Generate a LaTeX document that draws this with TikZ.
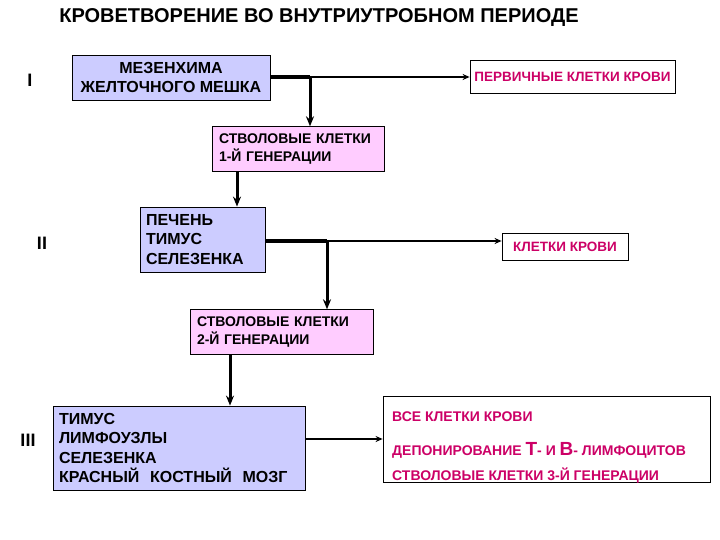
\documentclass[tikz,border=0pt]{standalone}
\usepackage{fontspec}
\setmainfont{Liberation Sans}
\usetikzlibrary{arrows.meta}
\definecolor{boxblue}{RGB}{204,204,255}
\definecolor{boxpink}{RGB}{255,204,255}
\definecolor{outred}{RGB}{204,0,102}
\begin{document}
\begin{tikzpicture}[x=1pt,y=-1pt,
  font=\bfseries\fontsize{16}{19.5}\selectfont,
  organ/.style={draw,line width=0.8pt,fill=boxblue,inner sep=6pt},
  stem/.style={draw,line width=0.8pt,fill=boxpink,inner sep=7pt,align=left,
    font=\bfseries\fontsize{14}{18}\selectfont},
  result/.style={draw,line width=0.8pt,fill=white,text=outred,
    font=\bfseries\fontsize{13.5}{16}\selectfont},
  stage/.style={font=\bfseries\fontsize{18}{20}\selectfont},
  trunk/.style={line width=4pt},
  feed/.style={line width=3pt,-{Stealth[length=10pt,width=8pt]}},
  yield/.style={line width=1.2pt,-{Stealth[length=7pt,width=6pt]}}]
  \useasboundingbox (0,0) rectangle (720,540);
  \node (title) at (319,18) {\fontsize{20}{22}\selectfont КРОВЕТВОРЕНИЕ ВО ВНУТРИУТРОБНОМ ПЕРИОДЕ};
  % stage I
  \node[stage] (n1) at (30,80) {I};
  \node[organ,minimum width=198pt,minimum height=45pt,align=center] (yolk) at (171,77.5)
    {МЕЗЕНХИМА\\ЖЕЛТОЧНОГО МЕШКА};
  \node[result,minimum width=205pt,minimum height=33pt] (prim) at (572.5,76.5)
    {ПЕРВИЧНЫЕ КЛЕТКИ КРОВИ};
  \node[stem,text width=158pt,minimum height=38pt] (gen1) at (298,149)
    {СТВОЛОВЫЕ КЛЕТКИ\\1-Й ГЕНЕРАЦИИ};
  \coordinate (j1) at (310,77);
  \draw[trunk] (yolk.east |- j1) -- (j1);
  \draw[yield] (j1) -- (prim.west |- j1);
  \draw[feed] (j1) -- (j1 |- gen1.north);
  % stage II
  \node[stage] (n2) at (42,243) {II};
  \node[organ,text width=113pt,minimum height=65pt,align=left] (liver) at (202.5,239.5)
    {ПЕЧЕНЬ\\ТИМУС\\СЕЛЕЗЕНКА};
  \node[result,minimum width=126pt,minimum height=27pt] (blood) at (565,246.5)
    {КЛЕТКИ КРОВИ};
  \coordinate (d1) at (237,0);
  \draw[feed] (gen1.south -| d1) -- (liver.north -| d1);
  \node[stem,text width=169pt,minimum height=40pt] (gen2) at (281.5,332)
    {СТВОЛОВЫЕ КЛЕТКИ\\2-Й ГЕНЕРАЦИИ};
  \coordinate (j2) at (327,241);
  \draw[trunk] (liver.east |- j2) -- (j2);
  \draw[yield] (j2) -- (blood.west |- j2);
  \draw[feed] (j2) -- (j2 |- gen2.north);
  % stage III
  \node[stage] (n3) at (28,440) {III};
  \node[organ,text width=240pt,minimum height=84pt,align=left] (lymph) at (179,448)
    {ТИМУС\\ЛИМФОУЗЛЫ\\СЕЛЕЗЕНКА\\КРАСНЫЙ\ \ КОСТНЫЙ\ \ МОЗГ};
  \node[result,minimum width=327pt,minimum height=86pt] (all) at (546.5,439) {};
  \node[text=outred,align=left,inner sep=0pt,anchor=north west,
    font=\bfseries\fontsize{14}{17}\selectfont] (alltext) at (392,412)
    {ВСЕ КЛЕТКИ КРОВИ\\[17pt]
     ДЕПОНИРОВАНИЕ {\fontsize{19}{17}\selectfont T}- И {\fontsize{19}{17}\selectfont B}- ЛИМФОЦИТОВ\\[8pt]
     СТВОЛОВЫЕ КЛЕТКИ 3-Й ГЕНЕРАЦИИ};
  \coordinate (d2) at (230,0);
  \draw[feed] (gen2.south -| d2) -- (lymph.north -| d2);
  \draw[yield] (lymph.east |- all.west) -- (all.west);
\end{tikzpicture}
\end{document}
